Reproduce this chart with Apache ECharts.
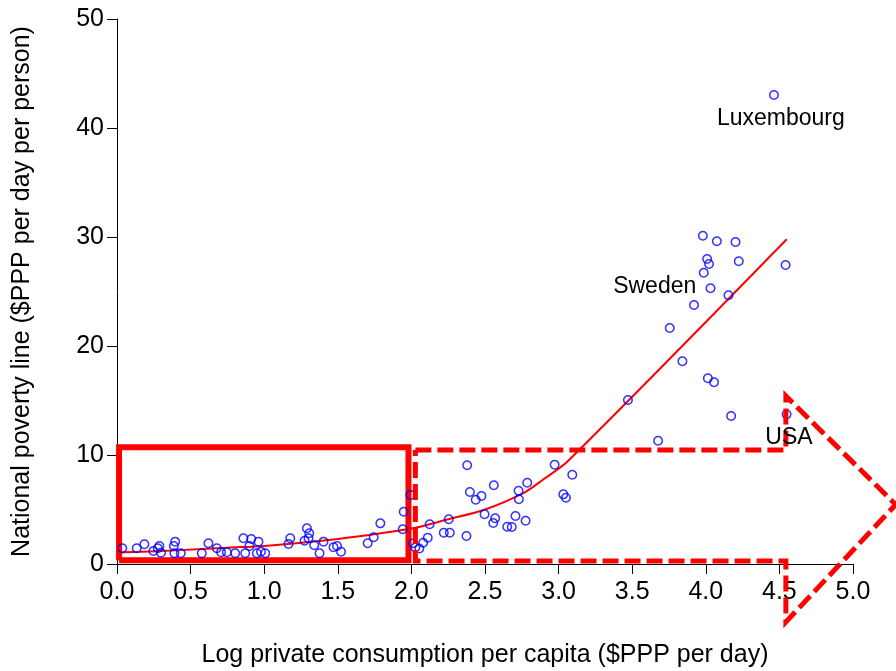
<!DOCTYPE html>
<html>
<head>
<meta charset="utf-8">
<script src="https://cdn.jsdelivr.net/npm/echarts@6/dist/echarts.min.js"></script>
<style>
html,body{margin:0;padding:0;background:#fff;}
#chart{width:896px;height:671px;}
</style>
</head>
<body>
<div id="chart"></div>
<script>
// Log private consumption per capita ($PPP per day)
const consumption = [
  0.036,0.134,0.186,0.247,0.277,0.288,0.299,0.395,0.386,0.390,
  0.433,0.576,0.621,0.678,0.707,0.746,0.803,0.859,0.871,0.900,
  0.912,0.950,0.961,0.978,1.007,1.165,1.177,1.274,1.290,1.306,
  1.301,1.340,1.376,1.403,1.471,1.495,1.522,1.703,1.744,1.789,
  1.941,1.948,1.993,2.012,2.027,2.054,2.080,2.111,2.124,2.220,
  2.261,2.254,2.374,2.379,2.397,2.437,2.476,2.560,2.497,2.569,
  2.556,2.651,2.682,2.707,2.776,2.728,2.730,2.787,2.973,3.093,
  3.032,3.050,3.471,3.676,3.980,4.075,4.202,4.009,4.022,4.224,
  3.986,4.542,4.032,4.154,3.920,3.755,3.841,4.014,4.056,4.172,
  4.549,4.463
];
// National poverty line ($PPP per day per person)
const povertyLine = [
  1.44,1.44,1.81,1.19,1.44,1.65,1.04,2.05,1.65,0.98,
  0.98,0.98,1.90,1.44,1.07,1.07,0.98,2.36,0.98,1.65,
  2.29,0.98,2.05,1.13,0.98,1.83,2.36,2.14,3.28,2.82,
  2.36,1.72,0.98,2.05,1.53,1.65,1.13,1.90,2.45,3.73,
  3.18,4.80,6.33,1.90,1.51,1.42,1.95,2.41,3.64,2.87,
  2.87,4.10,2.57,9.06,6.61,5.90,6.24,7.22,4.56,4.19,
  3.76,3.42,3.39,4.40,3.97,6.72,5.94,7.46,9.11,8.19,
  6.39,6.08,15.05,11.31,30.12,29.61,29.54,27.98,27.52,27.77,
  26.72,27.43,25.29,24.65,23.76,21.65,18.60,17.04,16.67,13.58,
  13.73,43.03
];
// Fitted curve
const fitX = [0.0, 0.4, 0.75, 1.0, 1.5, 2.0, 2.25, 2.5, 2.76, 2.9, 3.06, 4.55];
const fitY = [1.05, 1.25, 1.5, 1.66, 2.3, 3.25, 4.1, 5.0, 6.5, 7.8, 9.4, 29.8];

// Country annotations
const countryNames = ['Luxembourg', 'Sweden', 'USA'];
const countryLabelX = [4.51, 3.653, 4.565];
const countryLabelY = [40.9, 25.45, 11.56];

// Highlight shapes (solid box and dashed arrow), in data units
const boxX = [0.014, 1.98, 1.98, 0.014, 0.014];
const boxY = [0.35, 0.35, 10.7, 10.7, 0.35];
const arrowX = [2.027, 4.544, 4.544, 5.29, 4.544, 4.544, 2.027, 2.027];
const arrowY = [10.46, 10.46, 15.41, 5.45, -5.32, 0.28, 0.28, 10.46];

// Axis ticks
const xTicks = [0, 0.5, 1, 1.5, 2, 2.5, 3, 3.5, 4, 4.5, 5];
const yTicks = [0, 10, 20, 30, 40, 50];

const zip = (a, b) => a.map((v, i) => [v, b[i]]);
const FONT = 'Liberation Sans, Arial, sans-serif';

const chart = echarts.init(document.getElementById('chart'), null, {renderer: 'canvas'});
chart.setOption({
  animation: false,
  backgroundColor: '#ffffff',
  grid: {left: 117, right: 43, top: 19, bottom: 107, containLabel: false, outerBoundsMode: 'none'},
  xAxis: {
    type: 'value',
    min: xTicks[0], max: xTicks[xTicks.length - 1], interval: 0.5,
    name: 'Log private consumption per capita ($PPP per day)',
    nameLocation: 'middle', nameGap: 79,
    nameTextStyle: {fontFamily: FONT, fontSize: 25, color: '#000'},
    axisLine: {show: true, onZero: false, lineStyle: {color: '#000', width: 1}},
    axisTick: {show: true, length: 10, lineStyle: {color: '#000'}},
    axisLabel: {fontFamily: FONT, fontSize: 25, color: '#000', margin: 16,
      formatter: v => v.toFixed(1)},
    splitLine: {show: false}
  },
  yAxis: {
    type: 'value',
    min: yTicks[0], max: yTicks[yTicks.length - 1], interval: 10,
    name: 'National poverty line ($PPP per day per person)',
    nameLocation: 'middle', nameGap: 82,
    nameTextStyle: {fontFamily: FONT, fontSize: 25, color: '#000'},
    axisLine: {show: true, onZero: false, lineStyle: {color: '#000', width: 1}},
    axisTick: {show: true, length: 10, lineStyle: {color: '#000'}},
    axisLabel: {fontFamily: FONT, fontSize: 25, color: '#000', margin: 13},
    splitLine: {show: false}
  },
  series: [
    {
      type: 'line',
      data: zip(boxX, boxY),
      showSymbol: false, symbol: 'none',
      clip: false,
      lineStyle: {color: '#ff0000', width: 6, join: 'miter'},
      z: 3
    },
    {
      type: 'line',
      data: zip(fitX, fitY),
      showSymbol: false, symbol: 'none',
      smooth: 0.3,
      clip: false,
      lineStyle: {color: '#ff0000', width: 2},
      z: 4
    },
    {
      type: 'scatter',
      data: zip(consumption, povertyLine),
      symbol: 'circle',
      symbolSize: 8.5,
      itemStyle: {color: 'rgba(0,0,0,0)', borderColor: '#0000ff', borderWidth: 1.5},
      z: 5
    }
  ]
});

// Dashed arrow and country labels placed through the chart's own scales
const toPx = (x, y) => chart.convertToPixel({gridIndex: 0}, [x, y]);
const graphics = [];
graphics.push({
  type: 'polyline',
  z: 30,
  shape: {points: arrowX.map((x, i) => toPx(x, arrowY[i]))},
  style: {stroke: '#ff0000', fill: null, lineWidth: 5, lineDash: [16, 6], lineJoin: 'miter'}
});
countryNames.forEach((n, i) => {
  const p = toPx(countryLabelX[i], countryLabelY[i]);
  graphics.push({
    type: 'text',
    z: 40,
    x: p[0], y: p[1],
    style: {text: n, fill: '#000', fontFamily: FONT, fontSize: 23,
      align: 'center', verticalAlign: 'middle'}
  });
});
chart.setOption({graphic: graphics});
</script>
</body>
</html>
